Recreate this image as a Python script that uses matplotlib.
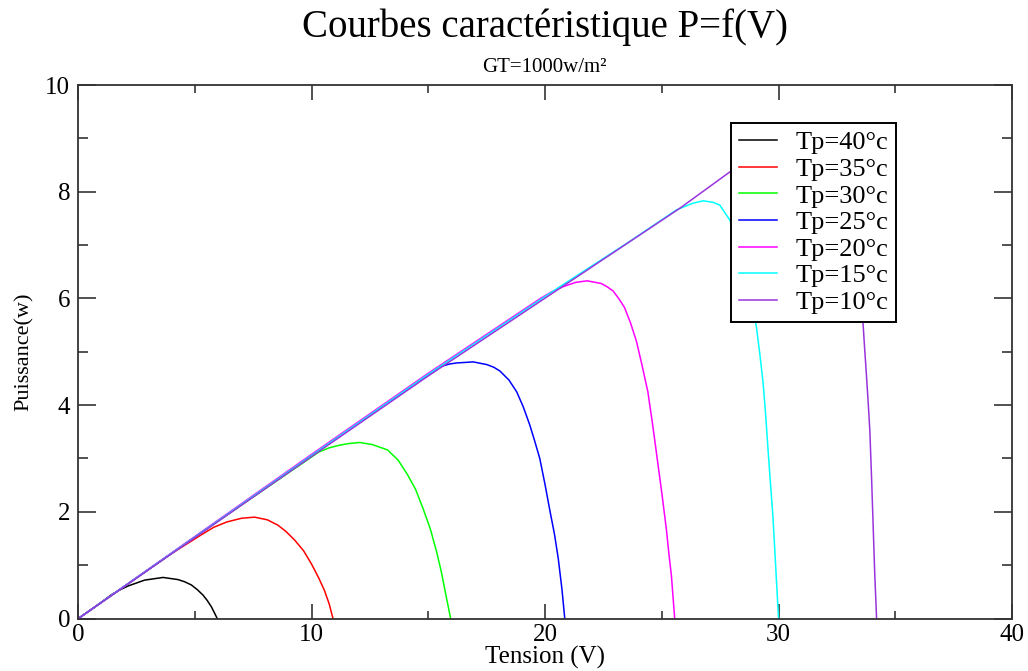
import matplotlib
matplotlib.use("Agg")
import matplotlib.pyplot as plt
from matplotlib.ticker import MultipleLocator

# Courbes P=f(V), one pair of arrays per temperature
v_40 = [0, 1.0, 1.43, 1.75, 2.13, 2.84, 3.63, 4.27, 4.55, 4.84, 5.1, 5.34, 5.52, 5.70, 5.85, 5.95]
p_40 = [0, 0.31, 0.45, 0.53, 0.61, 0.72, 0.77, 0.73, 0.69, 0.63, 0.54, 0.44, 0.34, 0.22, 0.09, 0]

v_35 = [0, 2, 4, 5.27, 5.8, 6.36, 7.0, 7.55, 8.1, 8.55, 8.9, 9.27, 9.65, 9.98, 10.3,
        10.55, 10.75, 10.91]
p_35 = [0, 0.61, 1.22, 1.57, 1.71, 1.81, 1.88, 1.90, 1.85, 1.75, 1.63, 1.47, 1.27, 1.03, 0.76,
        0.52, 0.27, 0]

v_30 = [0, 5, 10.3, 10.75, 11.2, 11.6, 12.06, 12.6, 13.25, 13.7, 14.1, 14.45, 14.77, 15.08,
        15.35, 15.55, 15.72, 15.85, 15.95]
p_30 = [0, 1.53, 3.12, 3.20, 3.25, 3.28, 3.30, 3.26, 3.16, 2.97, 2.70, 2.42, 2.06, 1.68,
        1.25, 0.88, 0.50, 0.22, 0]

v_25 = [0, 5, 10, 15.49, 15.9, 16.2, 16.92, 17.5, 17.8, 18.06, 18.45, 18.78, 19.06, 19.34,
        19.55, 19.77, 20.0, 20.2, 20.4, 20.56, 20.72, 20.84]
p_25 = [0, 1.53, 3.06, 4.72, 4.77, 4.79, 4.81, 4.76, 4.71, 4.64, 4.47, 4.25, 3.97, 3.63,
        3.33, 3.00, 2.50, 2.03, 1.58, 1.13, 0.55, 0]

v_20 = [0, 5, 10, 15, 19.8, 20.3, 20.77, 21.3, 21.8, 22.4, 22.65, 22.91, 23.15, 23.4, 23.65,
        23.91, 24.15, 24.4, 24.6, 24.8, 25.0, 25.2, 25.3, 25.41, 25.48, 25.55]
p_20 = [0, 1.54, 3.08, 4.6, 6.0, 6.13, 6.22, 6.30, 6.33, 6.28, 6.22, 6.14, 6.0, 5.83, 5.55,
        5.20, 4.75, 4.25, 3.65, 3.0, 2.35, 1.65, 1.22, 0.8, 0.4, 0]

v_15 = [0, 5, 10, 15, 20.63, 23.49, 25.63, 26.3, 26.77, 27.2, 27.48, 27.91, 28.3, 28.7,
        29.05, 29.2, 29.34, 29.45, 29.55, 29.65, 29.76, 29.88, 30.0]
p_15 = [0, 1.53, 3.06, 4.58, 6.22, 7.03, 7.66, 7.78, 7.83, 7.80, 7.75, 7.47, 7.0, 6.3,
        5.47, 4.95, 4.41, 3.8, 3.16, 2.55, 1.91, 0.95, 0]

v_10 = [0, 5, 10, 15, 20.63, 25.77, 27.91, 28.5, 29.5, 30.5, 31.3, 32.0, 32.6, 33.1,
        33.4, 33.62, 33.69, 33.76, 33.84, 33.91, 33.98, 34.05, 34.12, 34.2]
p_10 = [0, 1.52, 3.04, 4.55, 6.19, 7.69, 8.37, 8.55, 8.85, 9.1, 9.15, 9.0, 8.5, 7.5,
        6.5, 5.53, 5.05, 4.6, 4.05, 3.53, 2.7, 1.78, 0.85, 0]

labels = ["Tp=40°c", "Tp=35°c", "Tp=30°c", "Tp=25°c", "Tp=20°c", "Tp=15°c", "Tp=10°c"]
colors = ["black", "#ff0000", "#00ff00", "#0000ff", "#ff00ff", "#00ffff", "#9933dd"]

plt.rcParams["font.family"] = ["Liberation Serif", "DejaVu Serif"]

fig = plt.figure(figsize=(10.28, 6.71), dpi=100)
ax = fig.add_axes([0.0762, 0.0782, 0.9082, 0.7951])

series = [(v_40, p_40), (v_35, p_35), (v_30, p_30), (v_25, p_25),
          (v_20, p_20), (v_15, p_15), (v_10, p_10)]
for (v, p), lab, col in zip(series, labels, colors):
    ax.plot(v, p, color=col, lw=1.1, label=lab)

ax.set_xlim(0, 40)
ax.set_ylim(0, 10)
ax.xaxis.set_major_locator(MultipleLocator(10))
ax.xaxis.set_minor_locator(MultipleLocator(5))
ax.yaxis.set_major_locator(MultipleLocator(2))
ax.yaxis.set_minor_locator(MultipleLocator(1))
ax.tick_params(axis="both", which="both", direction="in", top=True, right=True,
               color="#333333", width=1.2, labelsize=18)
ax.tick_params(axis="x", which="major", length=11, pad=4)
ax.tick_params(axis="x", which="minor", length=6)
ax.tick_params(axis="y", which="major", length=13, pad=6)
ax.tick_params(axis="y", which="minor", length=7)
for s in ax.spines.values():
    s.set_linewidth(1.3)
    s.set_color("#333333")

ax.set_xlabel("Tension (V)", fontsize=18, labelpad=0)
ax.set_ylabel("Puissance(w)", fontsize=16, labelpad=8)

fig.text(0.530, 0.960, "Courbes caractéristique P=f(V)", ha="center", va="center", fontsize=28)
fig.text(0.530, 0.899, "GT=1000w/m²", ha="center", va="center", fontsize=15)

leg = ax.legend(loc="upper left", bbox_to_anchor=(0.699, 0.929), fontsize=19,
                frameon=True, fancybox=False, framealpha=1, edgecolor="black",
                borderaxespad=0, borderpad=0.3, labelspacing=0.12,
                handlelength=1.45, handletextpad=0.7)
leg.get_frame().set_linewidth(1.4)

fig.savefig("out.png", dpi=100)
